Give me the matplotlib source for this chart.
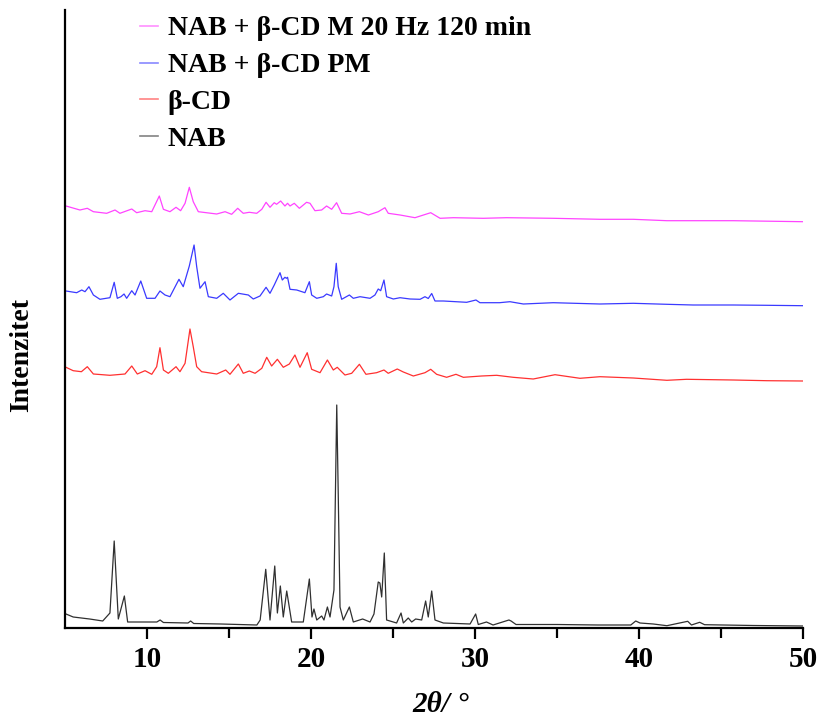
import matplotlib
matplotlib.use("Agg")
import matplotlib.pyplot as plt
from matplotlib.lines import Line2D

nab_x = [5.06, 5.5, 6.5, 7.3, 7.74, 8.0, 8.25, 8.62, 8.82, 10.6, 10.8, 11.0, 12.5, 12.66, 12.85,
         14.5, 16.7, 16.9, 17.24, 17.5, 17.79, 17.95, 18.13, 18.31, 18.52, 18.82, 19.53, 19.9,
         20.06, 20.18, 20.35, 20.65, 20.79, 21.0, 21.16, 21.4, 21.57, 21.66, 21.77, 21.97, 22.34,
         22.58, 23.15, 23.6, 23.84, 24.1, 24.2, 24.31, 24.47, 24.61, 25.22, 25.49, 25.63, 25.93,
         26.14, 26.38, 26.75, 26.99, 27.15, 27.36, 27.56, 28.07, 29.7, 30.04, 30.2, 30.7, 31.1,
         32.07, 32.2, 32.5, 35.0, 37.5, 39.5, 39.8, 40.06, 40.87, 41.7, 42.97, 43.2, 43.7, 44.0,
         47.0, 50.0]
nab_y = [14, 11, 9, 7, 15, 87, 9, 32, 6, 6, 8, 5.5, 5, 7, 4.5,
         4, 3, 8, 58.7, 8, 62, 15, 42, 11, 37, 6, 6, 49,
         11, 19, 8, 12, 8, 21, 11, 38, 223, 135, 21, 8, 21,
         6, 9, 6, 14, 46, 45, 31, 75, 8, 5, 15, 5, 10,
         6, 9, 8, 27, 11, 37, 8, 5, 4, 14, 3.5, 6, 3,
         8, 7, 3.5, 3.5, 3, 3, 7, 5, 4, 2.3, 6.7, 3, 5.7, 3.3,
         2.5, 2]

bcd_x = [5.06, 5.5, 6.0, 6.36, 6.73, 7.74, 8.66, 9.07, 9.41, 9.88, 10.29, 10.59, 10.79, 11.0,
         11.3, 11.77, 12.01, 12.32, 12.62, 12.82, 13.03, 13.33, 14.25, 14.8, 15.06, 15.57, 15.87,
         16.24, 16.59, 17.0, 17.3, 17.6, 17.95, 18.31, 18.68, 19.02, 19.33, 19.77, 20.04, 20.55,
         21.0, 21.36, 21.6, 22.07, 22.48, 22.95, 23.35, 24.0, 24.45, 24.71, 25.26, 25.63, 26.24,
         26.95, 27.3, 27.66, 28.27, 28.84, 29.29, 30.4, 31.32, 32.33, 33.55, 34.88, 36.4, 37.62,
         39.65, 41.7, 42.9, 45.75, 47.8, 50.0]
bcd_y = [260.7, 257.3, 256.3, 261.3, 254, 252.7, 254, 262, 254, 257.3, 253.7, 261.3, 280.3, 258,
         254.7, 261.3, 256.3, 264.7, 299, 281.3, 261.3, 256.3, 254, 258, 253.7, 264, 254.7,
         257, 254.7, 259.7, 270.7, 262, 268.7, 260.7, 264, 273, 260.7, 275.3, 258.7, 255.3,
         268, 258, 260.7, 253, 254.7, 263.7, 253.7, 255.3, 258, 254.7, 259, 256, 252,
         255.3, 258.7, 253.7, 250.7, 253.7, 250.7, 252, 252.7, 250.7, 249, 253.3, 249.7, 251.3,
         250, 247.7, 248.7, 248, 247.3, 247]

pm_x = [5.06, 5.71, 6.02, 6.22, 6.46, 6.73, 7.13, 7.74, 8.0, 8.19, 8.41, 8.6, 8.76, 9.07, 9.27,
        9.62, 9.98, 10.49, 10.79, 11.1, 11.4, 11.95, 12.21, 12.58, 12.87, 13.03, 13.23, 13.54,
        13.74, 14.25, 14.65, 15.06, 15.57, 16.18, 16.48, 16.89, 17.26, 17.5, 17.76, 18.11, 18.25,
        18.41, 18.5, 18.57, 18.72, 19.13, 19.63, 19.9, 20.04, 20.35, 20.75, 20.95, 21.26, 21.4,
        21.54, 21.66, 21.87, 22.34, 22.58, 22.99, 23.6, 23.9, 24.1, 24.25, 24.45, 24.61, 25.02,
        25.43, 26.04, 26.65, 26.95, 27.15, 27.36, 27.56, 28.07, 29.49, 30.06, 30.3, 31.5, 32.13,
        32.95, 34.77, 37.62, 39.65, 41.7, 43.3, 45.75, 47.8, 50.0]
pm_y = [337, 335.3, 338, 336.3, 341.3, 333, 328.7, 330.3, 345.7, 329.7, 331.3, 334, 329.7, 337.3, 333,
        347, 329.7, 329.7, 337, 333, 331.3, 348.7, 341.3, 362, 383, 361.3, 339.7, 346.3,
        331.3, 329.7, 334.7, 328, 334.7, 333, 329, 332, 340.7, 334.7, 343, 355.3, 348,
        350.7, 349.7, 350.7, 338.7, 338, 335.3, 346.3, 333, 329.7, 331.3, 334, 332, 341.3,
        364.7, 341.3, 328.7, 333, 329.7, 331.3, 329.7, 333, 339, 337.3, 348, 331.3, 329,
        330.3, 329, 328.7, 331.3, 329.5, 334.5, 327, 327, 325.7, 328, 325.3, 325.3, 326.3,
        324, 325.3, 324, 324.7, 323.7, 323, 323, 322.7, 322.3]

mill_x = [5.06, 5.91, 6.36, 6.73, 7.54, 8.05, 8.35, 9.07, 9.37, 9.88, 10.29, 10.75, 11.0, 11.4,
          11.77, 12.05, 12.32, 12.58, 12.82, 13.13, 14.25, 14.76, 15.16, 15.53, 15.87, 16.24,
          16.69, 17.0, 17.26, 17.5, 17.76, 17.9, 18.15, 18.41, 18.57, 18.72, 18.98, 19.29, 19.73,
          19.94, 20.24, 20.65, 20.95, 21.26, 21.56, 21.87, 22.38, 22.95, 23.5, 24.1, 24.51, 24.71,
          25.43, 26.34, 27.3, 27.87, 28.68, 30.5, 31.93, 34.77, 37.62, 39.65, 41.7, 43.7, 45.75,
          50.0]
mill_y = [422, 418, 419.7, 416.3, 414.7, 418, 414.7, 419, 415.3, 417.3, 416.3, 432, 418.7, 416.3,
          420.7, 417.3, 424.7, 440.7, 426.3, 416.3, 414, 416.3, 413.7, 419.7, 414.7, 415.7,
          414.7, 418.7, 425.7, 420.7, 425.3, 423.7, 427, 422, 424.7, 422, 424.7, 419.7, 425.7,
          424.7, 417.3, 418, 422, 418.7, 425.3, 414.7, 414, 416.3, 413, 416.3, 420.3, 414.7,
          413, 410.3, 415.3, 409.7, 410.3, 409.7, 410.3, 409.7, 408.7, 408.7, 407.3, 407.3, 407.3,
          406.3]

labels = ["NAB + \u03b2-CD M 20 Hz 120 min", "NAB + \u03b2-CD PM", "\u03b2-CD", "NAB"]
colors = ["#ff44ff", "#3a3aff", "#ff3030", "#303030"]
x_ticks = [10, 20, 30, 40, 50]

SERIF = ["Liberation Serif", "DejaVu Serif"]
plt.rcParams["font.family"] = SERIF

fig = plt.figure(figsize=(8.17, 7.2), dpi=100)
ax = fig.add_axes([65 / 817, (720 - 628) / 720, 738 / 817, 618 / 720])

series = [(mill_x, mill_y), (pm_x, pm_y), (bcd_x, bcd_y), (nab_x, nab_y)]
for (xs, ys), c in zip(series, colors):
    ax.plot(xs, ys, color=c, lw=0.9)

ax.set_xlim(5, 50)
ax.set_ylim(0, 618)
ax.set_xticks(x_ticks)
ax.set_xticks([15, 25, 35, 45], minor=True)
ax.set_yticks([])
for s in ["top", "right"]:
    ax.spines[s].set_visible(False)
for s in ["left", "bottom"]:
    ax.spines[s].set_linewidth(1.6)
ax.tick_params(axis="x", which="major", direction="out", length=8, width=1.6,
               labelsize=21, pad=5)
ax.tick_params(axis="x", which="minor", direction="out", length=7, width=1.6)
for lab in ax.get_xticklabels():
    lab.set_fontweight("bold")

fig.text(441 / 817, 1 - 705 / 720, "2\u03b8/ \u00b0", ha="center", va="center",
         fontsize=21, fontweight="bold", fontstyle="italic")
fig.text(22 / 817, 1 - 355 / 720, "Intenzitet", ha="center", va="center",
         rotation=90, fontsize=20, fontweight="bold")

handles = [Line2D([], [], color=c, lw=1.2, alpha=0.6) for c in colors]
leg = ax.legend(handles, labels, loc="upper left",
                bbox_to_anchor=((140 - 65) / 738, (628 - 16) / 618),
                frameon=False, handlelength=0.65, handletextpad=0.35,
                borderpad=0, borderaxespad=0, labelspacing=0.41,
                prop={"family": SERIF, "weight": "bold", "size": 20})

fig.savefig("out.png", dpi=100)
